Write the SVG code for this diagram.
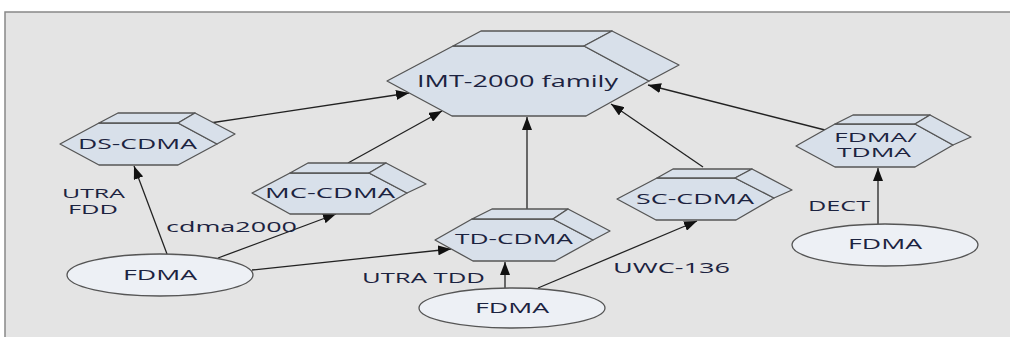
<svg xmlns="http://www.w3.org/2000/svg" width="1010" height="337" viewBox="0 0 1010 337">
<style>
.hex{fill:#d8e0ea;stroke:#555;stroke-width:1.3;stroke-linejoin:round}
.ell{fill:#edf0f5;stroke:#555;stroke-width:1.3}
.t{font-family:"Open Sans","Liberation Sans",sans-serif;font-size:14px;fill:#1c2340;text-anchor:middle}
.big{font-size:16px}
.sm{font-size:12.5px}
.xs{font-size:12px}
.c{stroke:#222;stroke-width:1.3;fill:none;marker-end:url(#ah)}
</style>
<defs>
<marker id="ah" markerUnits="userSpaceOnUse" markerWidth="14" markerHeight="10" refX="13" refY="5" orient="auto">
<path d="M0,0 L13,5 L0,10 Z" fill="#111"/>
</marker>
</defs>
<rect width="1010" height="337" fill="#fff"/>
<rect x="5" y="12" width="1010" height="340" fill="#e4e4e4" stroke="#888" stroke-width="1.5"/>

<g id="connectors">
<line class="c" x1="210" y1="123" x2="409" y2="93"/>
<line class="c" x1="348" y1="163" x2="442" y2="111"/>
<line class="c" x1="527" y1="209" x2="527" y2="117"/>
<line class="c" x1="703" y1="167" x2="611" y2="104"/>
<line class="c" x1="825" y1="130" x2="648" y2="85"/>
<line class="c" x1="167" y1="254" x2="134" y2="166"/>
<line class="c" x1="218" y1="258" x2="336" y2="214"/>
<line class="c" x1="252" y1="270" x2="451" y2="249"/>
<line class="c" x1="505" y1="288" x2="505" y2="262"/>
<line class="c" x1="538" y1="288" x2="697" y2="221"/>
<line class="c" x1="878" y1="224" x2="878" y2="168"/>
</g>

<g id="imt2000">
<polygon class="hex" points="387,81 453,46 584,46 649,81 586,116 452,116"/>
<polygon class="hex" points="453,46 481,31 612,31 584,46"/>
<polygon class="hex" points="584,46 612,31 679,65 649,81"/>
<text class="t big" x="517.5" y="87" textLength="201" lengthAdjust="spacingAndGlyphs">IMT-2000 family</text>
</g>

<g id="ds-cdma">
<polygon class="hex" points="60,144 99,123 178,123 217,144 178,165 99,165"/>
<polygon class="hex" points="99,123 118,113 195,113 178,123"/>
<polygon class="hex" points="178,123 195,113 235,134 217,144"/>
<text class="t" x="137.5" y="149" textLength="119" lengthAdjust="spacingAndGlyphs">DS-CDMA</text>
</g>

<g id="mc-cdma">
<polygon class="hex" points="252,193 290,173 369,173 407,193 370,214 290,214"/>
<polygon class="hex" points="290,173 308,163 386,163 369,173"/>
<polygon class="hex" points="369,173 386,163 426,184 407,193"/>
<text class="t" x="330" y="198" textLength="130" lengthAdjust="spacingAndGlyphs">MC-CDMA</text>
</g>

<g id="td-cdma">
<polygon class="hex" points="435,240 472,219 553,219 593,240 555,261 473,261"/>
<polygon class="hex" points="472,219 492,209 568,209 553,219"/>
<polygon class="hex" points="553,219 568,209 610,231 593,240"/>
<text class="t" x="514" y="244" textLength="118" lengthAdjust="spacingAndGlyphs">TD-CDMA</text>
</g>

<g id="sc-cdma">
<polygon class="hex" points="617,199 657,178 735,178 774,198 736,220 656,220"/>
<polygon class="hex" points="657,178 673,169 752,169 735,178"/>
<polygon class="hex" points="735,178 752,169 792,190 774,198"/>
<text class="t" x="695" y="204" textLength="118" lengthAdjust="spacingAndGlyphs">SC-CDMA</text>
</g>

<g id="fdma-tdma">
<polygon class="hex" points="796,146 835,124 915,124 953,145 915,167 835,167"/>
<polygon class="hex" points="835,124 853,115 930,115 915,124"/>
<polygon class="hex" points="915,124 930,115 971,137 953,145"/>
<text class="t sm" x="875.5" y="142" textLength="83" lengthAdjust="spacingAndGlyphs">FDMA/</text>
<text class="t sm" x="874" y="157" textLength="74" lengthAdjust="spacingAndGlyphs">TDMA</text>
</g>

<g id="fdma-left">
<ellipse class="ell" cx="160" cy="275" rx="93" ry="21"/>
<text class="t" x="160" y="280" textLength="74" lengthAdjust="spacingAndGlyphs">FDMA</text>
</g>

<g id="fdma-bottom">
<ellipse class="ell" cx="512" cy="308" rx="93" ry="20"/>
<text class="t" x="512" y="313" textLength="74" lengthAdjust="spacingAndGlyphs">FDMA</text>
</g>

<g id="fdma-right">
<ellipse class="ell" cx="885" cy="245" rx="93" ry="21"/>
<text class="t" x="885" y="249" textLength="74" lengthAdjust="spacingAndGlyphs">FDMA</text>
</g>

<g id="labels">
<text class="t xs" x="93.5" y="198" textLength="63" lengthAdjust="spacingAndGlyphs">UTRA</text>
<text class="t xs" x="93" y="213.5" textLength="50" lengthAdjust="spacingAndGlyphs">FDD</text>
<text class="t" x="231.5" y="232" textLength="131" lengthAdjust="spacingAndGlyphs">cdma2000</text>
<text class="t" x="423.5" y="283" textLength="123" lengthAdjust="spacingAndGlyphs">UTRA TDD</text>
<text class="t" x="671.5" y="273" textLength="117" lengthAdjust="spacingAndGlyphs">UWC-136</text>
<text class="t" x="839" y="211" textLength="62" lengthAdjust="spacingAndGlyphs">DECT</text>
</g>
</svg>
